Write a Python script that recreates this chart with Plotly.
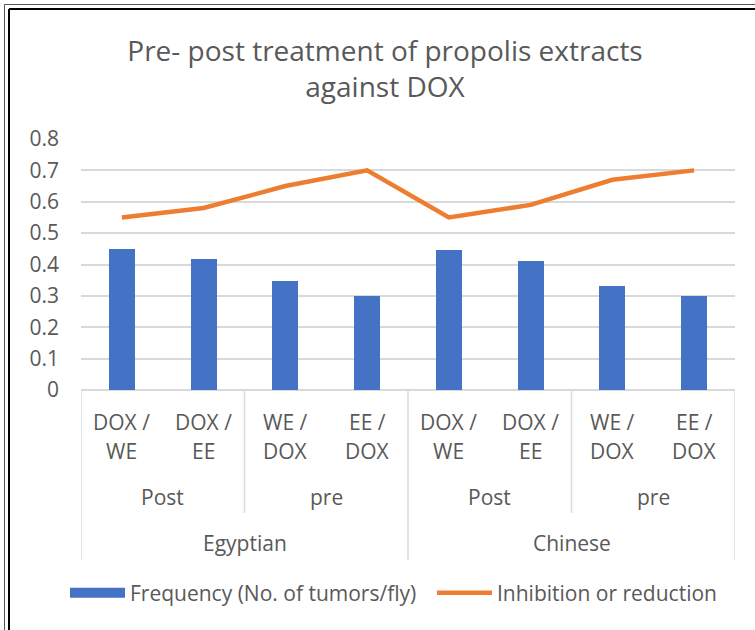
import plotly.graph_objects as go

# ---- data ----
treatments = ["DOX / WE", "DOX / EE", "WE / DOX", "EE / DOX",
              "DOX / WE", "DOX / EE", "WE / DOX", "EE / DOX"]
timing = ["Post", "pre", "Post", "pre"]
origin = ["Egyptian", "Chinese"]
frequency = [0.45, 0.418, 0.346, 0.30, 0.446, 0.412, 0.33, 0.30]
inhibition = [0.55, 0.58, 0.65, 0.70, 0.55, 0.59, 0.67, 0.70]

# ---- layout geometry (pixels) ----
FW, FH = 755, 630
L, R, T, B = 81, 735, 139, 390
W, H = R - L, B - T
TXT = "#595959"
GRID = "#d9d9d9"
FONT = "Open Sans"
BLUE = "#4472c4"
ORANGE = "#ed7d31"


def px_x(px):
    return (px - L) / W


def px_y(py):
    return (B - py) / H


idx = list(range(len(treatments)))

fig = go.Figure()
fig.add_trace(go.Bar(
    x=idx, y=frequency, width=0.32, name="Frequency (No. of tumors/fly)",
    marker=dict(color=BLUE, line=dict(width=0)), showlegend=False,
    legendgroup="freq",
))
# legend entry for the bars (wide rectangle like the original)
fig.add_trace(go.Scatter(
    x=[None], y=[None], mode="lines", name="Frequency (No. of tumors/fly)",
    line=dict(color=BLUE, width=14), legendgroup="freq", legend="legend",
))
fig.add_trace(go.Scatter(
    x=idx, y=inhibition, mode="lines", name="Inhibition or reduction",
    line=dict(color=ORANGE, width=4.5), legend="legend2",
))

annotations = []
# level 1: treatment labels (two lines)
for i, t in enumerate(treatments):
    a, b = t.split(" / ")
    for text, off in ((a + " /", 32), (b, 61)):
        annotations.append(dict(
            x=i, xref="x", y=0, yref="paper", yshift=-off, yanchor="middle",
            text=text, showarrow=False, font=dict(size=21, color=TXT, family=FONT)))
# level 2: timing
for j, t in enumerate(timing):
    annotations.append(dict(
        x=2 * j + 0.5, xref="x", y=0, yref="paper", yshift=-107, yanchor="middle",
        text=t, showarrow=False, font=dict(size=21, color=TXT, family=FONT)))
# level 3: origin
for k, o in enumerate(origin):
    annotations.append(dict(
        x=4 * k + 1.5, xref="x", y=0, yref="paper", yshift=-153, yanchor="middle",
        text=o, showarrow=False, font=dict(size=21, color=TXT, family=FONT)))

shapes = []
# separators
n = len(treatments)
for bnd in range(0, n + 1, 2):
    x = bnd - 0.5
    bottom = 560 if bnd % 4 == 0 else 513
    shapes.append(dict(type="line", xref="x", yref="paper", x0=x, x1=x,
                       y0=0, y1=px_y(bottom), line=dict(color=GRID, width=1.5)))
# outer double frame (top and left)
shapes.append(dict(type="line", xref="paper", yref="paper",
                   x0=px_x(4.5), x1=px_x(FW + 5), y0=px_y(4.5), y1=px_y(4.5),
                   line=dict(color="#555555", width=1)))
shapes.append(dict(type="line", xref="paper", yref="paper",
                   x0=px_x(9), x1=px_x(FW + 5), y0=px_y(9), y1=px_y(9),
                   line=dict(color="#000000", width=2)))
shapes.append(dict(type="line", xref="paper", yref="paper",
                   x0=px_x(4.5), x1=px_x(4.5), y0=px_y(4.5), y1=px_y(FH + 5),
                   line=dict(color="#555555", width=1)))
shapes.append(dict(type="line", xref="paper", yref="paper",
                   x0=px_x(9), x1=px_x(9), y0=px_y(9), y1=px_y(FH + 5),
                   line=dict(color="#000000", width=2)))

legend_common = dict(orientation="h", xanchor="left", yanchor="middle",
                     y=px_y(593), itemwidth=55, bgcolor="rgba(0,0,0,0)",
                     font=dict(size=21, color=TXT, family=FONT))

fig.update_layout(
    width=FW, height=FH, autosize=False,
    margin=dict(l=L, r=FW - R, t=T, b=FH - B),
    paper_bgcolor="white", plot_bgcolor="white",
    font=dict(family=FONT, color=TXT, size=21),
    title=dict(text="Pre- post treatment of propolis extracts<br>against DOX",
               x=385 / FW, xanchor="center", xref="container",
               y=1 - 61 / FH, yanchor="top", yref="container",
               font=dict(size=28, color=TXT, family=FONT)),
    xaxis=dict(range=[-0.5, n - 0.5], showticklabels=False, showgrid=False,
               zeroline=False, showline=False, ticks=""),
    yaxis=dict(range=[0, 0.8], tick0=0, dtick=0.1, showgrid=True, gridcolor=GRID,
               gridwidth=1.5, zeroline=True, zerolinecolor=GRID, zerolinewidth=1.5,
               showline=False, ticklabelstandoff=21,
               tickfont=dict(size=21, color=TXT, family=FONT)),
    showlegend=True,
    legend=dict(x=px_x(65), **legend_common),
    legend2=dict(x=px_x(432), **legend_common),
    annotations=annotations, shapes=shapes,
    bargap=0,
)

fig.write_html("out.html", config={"displayModeBar": False},
               post_script="document.body.style.margin='0';")
